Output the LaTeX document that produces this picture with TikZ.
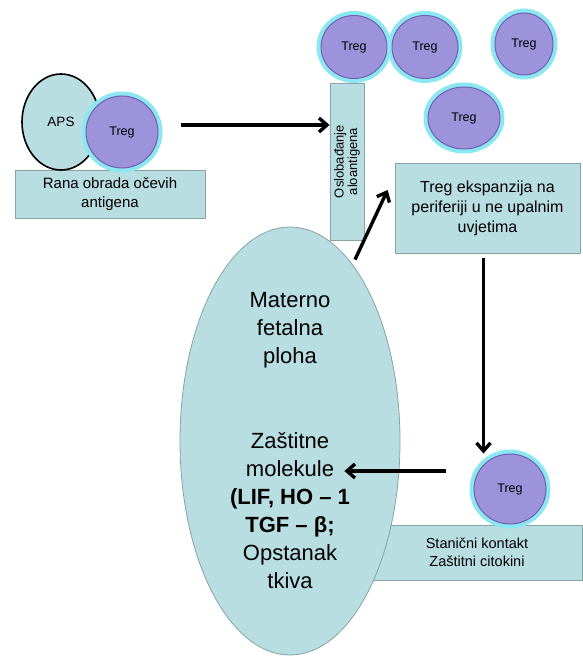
\documentclass[tikz,border=0pt]{standalone}
\usepackage{fontspec}
\setmainfont{Liberation Sans}
\usetikzlibrary{shapes.geometric,arrows.meta,positioning}
\definecolor{cellfill}{HTML}{B9DEE1}
\definecolor{boxline}{HTML}{86A3A5}
\definecolor{tregfill}{HTML}{9D93DB}
\definecolor{tregline}{HTML}{6E5FB2}
\definecolor{glow}{HTML}{8CE8F0}
\begin{document}
\begin{tikzpicture}[x=1pt, y=-1pt,
    box/.style={rectangle, draw=boxline, fill=cellfill, line width=0.8pt, align=center, inner sep=2pt},
    treg/.style={ellipse, draw=tregline, fill=tregfill, line width=1pt, minimum width=66pt, minimum height=63pt, inner sep=0pt, font=\fontsize{12.5}{14}\selectfont, preaction={draw=glow, line width=9pt}},
    line/.style={draw, -{Straight Barb[length=8pt,width=14pt]}, line width=3.4pt}]
    \useasboundingbox (0,0) rectangle (582,658);

    % early processing
    \node [box, minimum width=190pt, minimum height=48pt, font=\fontsize{15}{19}\selectfont] (rana) at (110,194) {Rana obrada očevih\\antigena};
    \node [ellipse, draw=black, line width=1.6pt, fill=cellfill, minimum width=78pt, minimum height=96pt, inner sep=0pt, font=\fontsize{13.5}{15}\selectfont] (aps) at (61,122) {APS};
    \node [treg, minimum width=72pt, minimum height=72pt] (treg0) at (122,132) {Treg};

    % release of alloantigens
    \node [box, minimum width=34pt, minimum height=157pt, inner sep=0pt] (oslob) at (347,161.5) {};
    \node [rotate=90, align=center, font=\fontsize{13}{13.5}\selectfont] (osloblabel) at (oslob.center) {Oslobađanje\\aloantigena};
    \node [treg] (tregA) at (354,47) {Treg};
    \node [treg] (tregB) at (425,47) {Treg};
    \node [treg, minimum width=58pt, minimum height=62pt] (tregD) at (524,44) {Treg};
    \node [treg, minimum width=72pt, minimum height=62pt] (tregE) at (464,118) {Treg};

    % expansion
    \node [box, minimum width=185pt, minimum height=90pt, font=\fontsize{16}{20}\selectfont] (ekspanz) at (487.5,208) {Treg ekspanzija na\\periferiji u ne upalnim\\uvjetima};

    % cell contact
    \node [box, minimum width=210pt, minimum height=55pt, font=\fontsize{14.5}{18}\selectfont] (kontakt) at (477,552.5) {Stanični kontakt\\Zaštitni citokini};
    \node [treg, minimum width=72pt, minimum height=70pt] (tregC) at (510,489) {Treg};

    % maternal-fetal interface
    \node [ellipse, draw=boxline, line width=0.8pt, fill=cellfill, minimum width=220pt, minimum height=428pt, inner sep=0pt, align=center, font=\fontsize{22}{28}\selectfont] (ploha) at (290,441)
        {Materno\\fetalna\\ploha\\[57pt]Zaštitne\\molekule\\\textbf{(LIF, HO – 1}\\\textbf{TGF – β;}\\Opstanak\\tkiva};

    \path [line] ([xshift=22pt,yshift=7pt]treg0.east) -- ([yshift=7pt]treg0.east -| oslob.west);
    \path [line] ([xshift=65pt,yshift=-33pt]ploha.north) -- ([xshift=-7pt,yshift=18pt]ekspanz.west);
    \path [line] ([xshift=-4pt,yshift=-5pt]ekspanz.south) -- ([xshift=-4pt]ekspanz.south |- tregC.north);
    \path [line] ([xshift=-28pt,yshift=18pt]tregC.west) -- ([xshift=-28pt,yshift=18pt]tregC.west -| ploha.east) -- ++(-28,0);
\end{tikzpicture}
\end{document}
